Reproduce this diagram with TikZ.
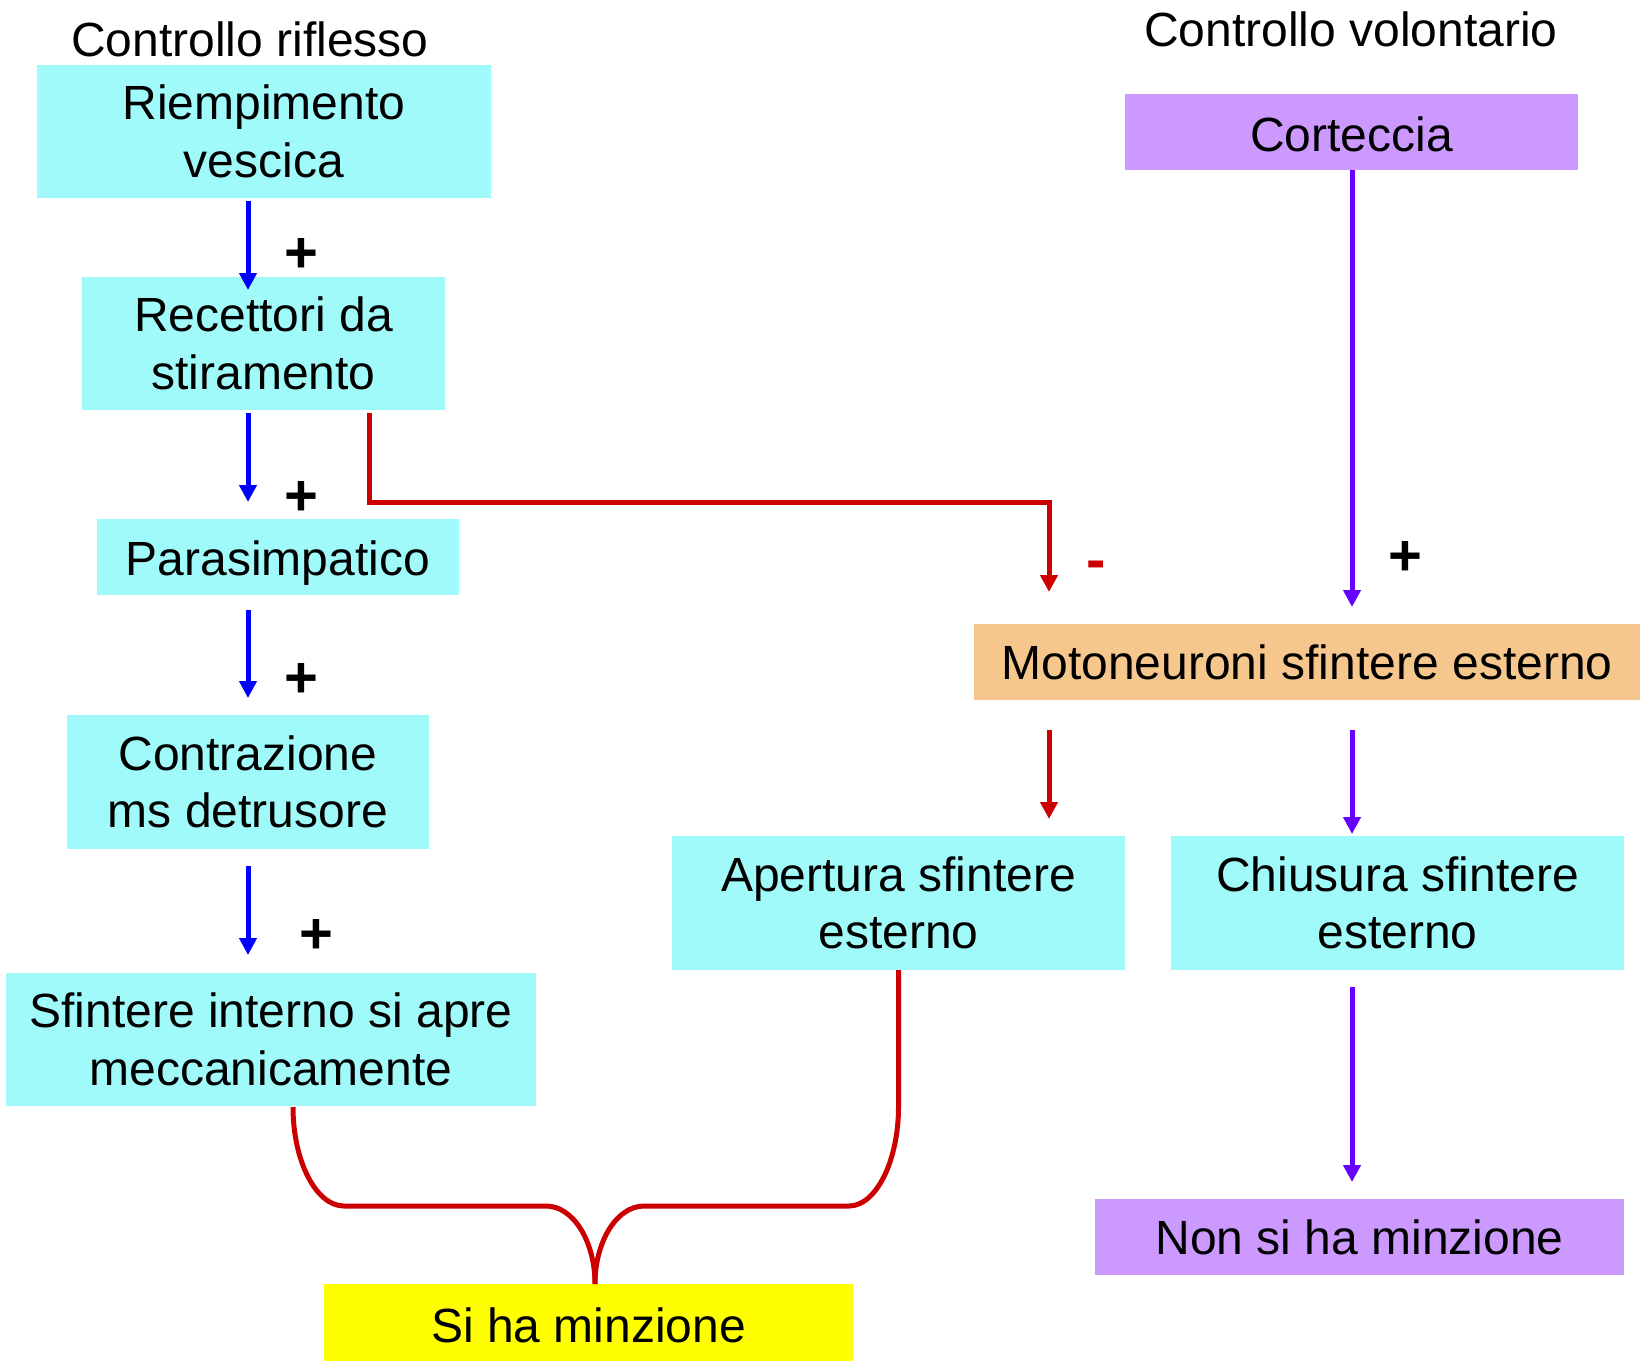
\documentclass[tikz,border=0pt]{standalone}
\usepackage{fontspec}
\setmainfont{Liberation Sans}
\usetikzlibrary{arrows.meta}
\definecolor{cyanbox}{RGB}{160,250,250}
\definecolor{purplebox}{RGB}{204,153,255}
\definecolor{orangebox}{RGB}{245,199,140}
\definecolor{yellowbox}{RGB}{255,255,0}
\definecolor{arrblue}{RGB}{0,0,255}
\definecolor{arrred}{RGB}{204,0,0}
\definecolor{arrpurple}{RGB}{102,0,255}
\newcommand{\lowertext}[2]{\raisebox{-#1}[\height][\depth]{#2}}
\begin{document}
\begin{tikzpicture}[x=1pt,y=-1pt,
  box/.style={inner sep=0pt, align=center, font=\fontsize{48}{57.5}\selectfont},
  cbox/.style={box, fill=cyanbox},
  pbox/.style={box, fill=purplebox},
  title/.style={inner sep=0pt, font=\fontsize{48}{56}\selectfont},
  sign/.style={inner sep=0pt, font=\fontsize{58}{60}\selectfont\bfseries},
  tip/.style={-{Triangle[width=17pt,length=17pt]}},
  bluearr/.style={tip, draw=arrblue, line width=5pt},
  redarr/.style={tip, draw=arrred, line width=5pt},
  purparr/.style={tip, draw=arrpurple, line width=5pt},
  redline/.style={draw=arrred, line width=5pt}
]
\useasboundingbox (0,0) rectangle (1640,1366);

% titles
\node[title] (t1) at (250,39) {Controllo riflesso};
\node[title] (t2) at (1351,29) {Controllo volontario};

% left column
\node[cbox, minimum width=454pt, minimum height=133pt] (rie) at (264,131.5) {Riempimento\\vescica};
\node[cbox, minimum width=363pt, minimum height=133pt] (rec) at (263.5,343.5) {Recettori da\\stiramento};
\node[cbox, minimum width=362pt, minimum height=76pt] (par) at (278,557) {\lowertext{6pt}{Parasimpatico}};
\node[cbox, minimum width=362pt, minimum height=134pt] (con) at (248,782) {Contrazione\\ms detrusore};
\node[cbox, minimum width=530pt, minimum height=133pt] (sfi) at (271,1039.5) {Sfintere interno si apre\\meccanicamente};
\node[box, fill=yellowbox, minimum width=529pt, minimum height=77pt] (min) at (588.5,1322.5) {\lowertext{3pt}{Si ha minzione}};

% right column
\node[pbox, minimum width=453pt, minimum height=76pt] (cor) at (1351.5,132) {\lowertext{2pt}{Corteccia}};
\node[box, fill=orangebox, minimum width=666pt, minimum height=76pt] (mot) at (1307,662) {Motoneuroni sfintere esterno};
\node[cbox, minimum width=453pt, minimum height=134pt] (ape) at (898.5,903) {Apertura sfintere\\esterno};
\node[cbox, minimum width=453pt, minimum height=134pt] (chi) at (1397.5,903) {Chiusura sfintere\\esterno};
\node[pbox, minimum width=529pt, minimum height=76pt] (non) at (1359.5,1237) {Non si ha minzione};

% arrow end points
\coordinate (a1s) at (248,201);  \coordinate (a1e) at (248,290);
\coordinate (a2s) at (248,413);  \coordinate (a2e) at (248,502);
\coordinate (a3s) at (248,610);  \coordinate (a3e) at (248,698);
\coordinate (a4s) at (248,866);  \coordinate (a4e) at (248,955);
\coordinate (rs) at (369,413);   \coordinate (rk1) at (369,502);
\coordinate (rk2) at (1049,502); \coordinate (re) at (1049,592);
\coordinate (ps) at (1352,170);  \coordinate (pe) at (1352,607);
\coordinate (r2s) at (1049,730); \coordinate (r2e) at (1049,819);
\coordinate (p2s) at (1352,730); \coordinate (p2e) at (1352,834);
\coordinate (p3s) at (1352,987); \coordinate (p3e) at (1352,1182);
\coordinate (meet) at (595,1284);

% blue arrows
\draw[bluearr] (a1s) -- (a1e);
\draw[bluearr] (a2s) -- (a2e);
\draw[bluearr] (a3s) -- (a3e);
\draw[bluearr] (a4s) -- (a4e);

% red inhibitory connector
\draw[redarr] (rs) -- (rk1) -- (rk2) -- (re);
\draw[redarr] (r2s) -- (r2e);

% purple arrows
\draw[purparr] (ps) -- (pe);
\draw[purparr] (p2s) -- (p2e);
\draw[purparr] (p3s) -- (p3e);

% brace to "Si ha minzione"
\draw[redline] (293,1107) .. controls (293,1161) and (316,1206) .. (344,1206)
  -- (546,1206) .. controls (573,1206) and (595,1241) .. (meet);
\draw[redline] (ape.south) -- (898.5,1107) .. controls (898.5,1161) and (876,1206) .. (849,1206)
  -- (644,1206) .. controls (617,1206) and (595,1241) .. (meet);

% signs
\node[sign] (s1) at (301,255) {+};
\node[sign] (s2) at (301,498) {+};
\node[sign] (s3) at (301,680) {+};
\node[sign] (s4) at (316,936) {+};
\node[sign] (s5) at (1405,558) {+};
\node[sign, text=arrred] (s6) at (1096,570) {-};
\end{tikzpicture}
\end{document}
